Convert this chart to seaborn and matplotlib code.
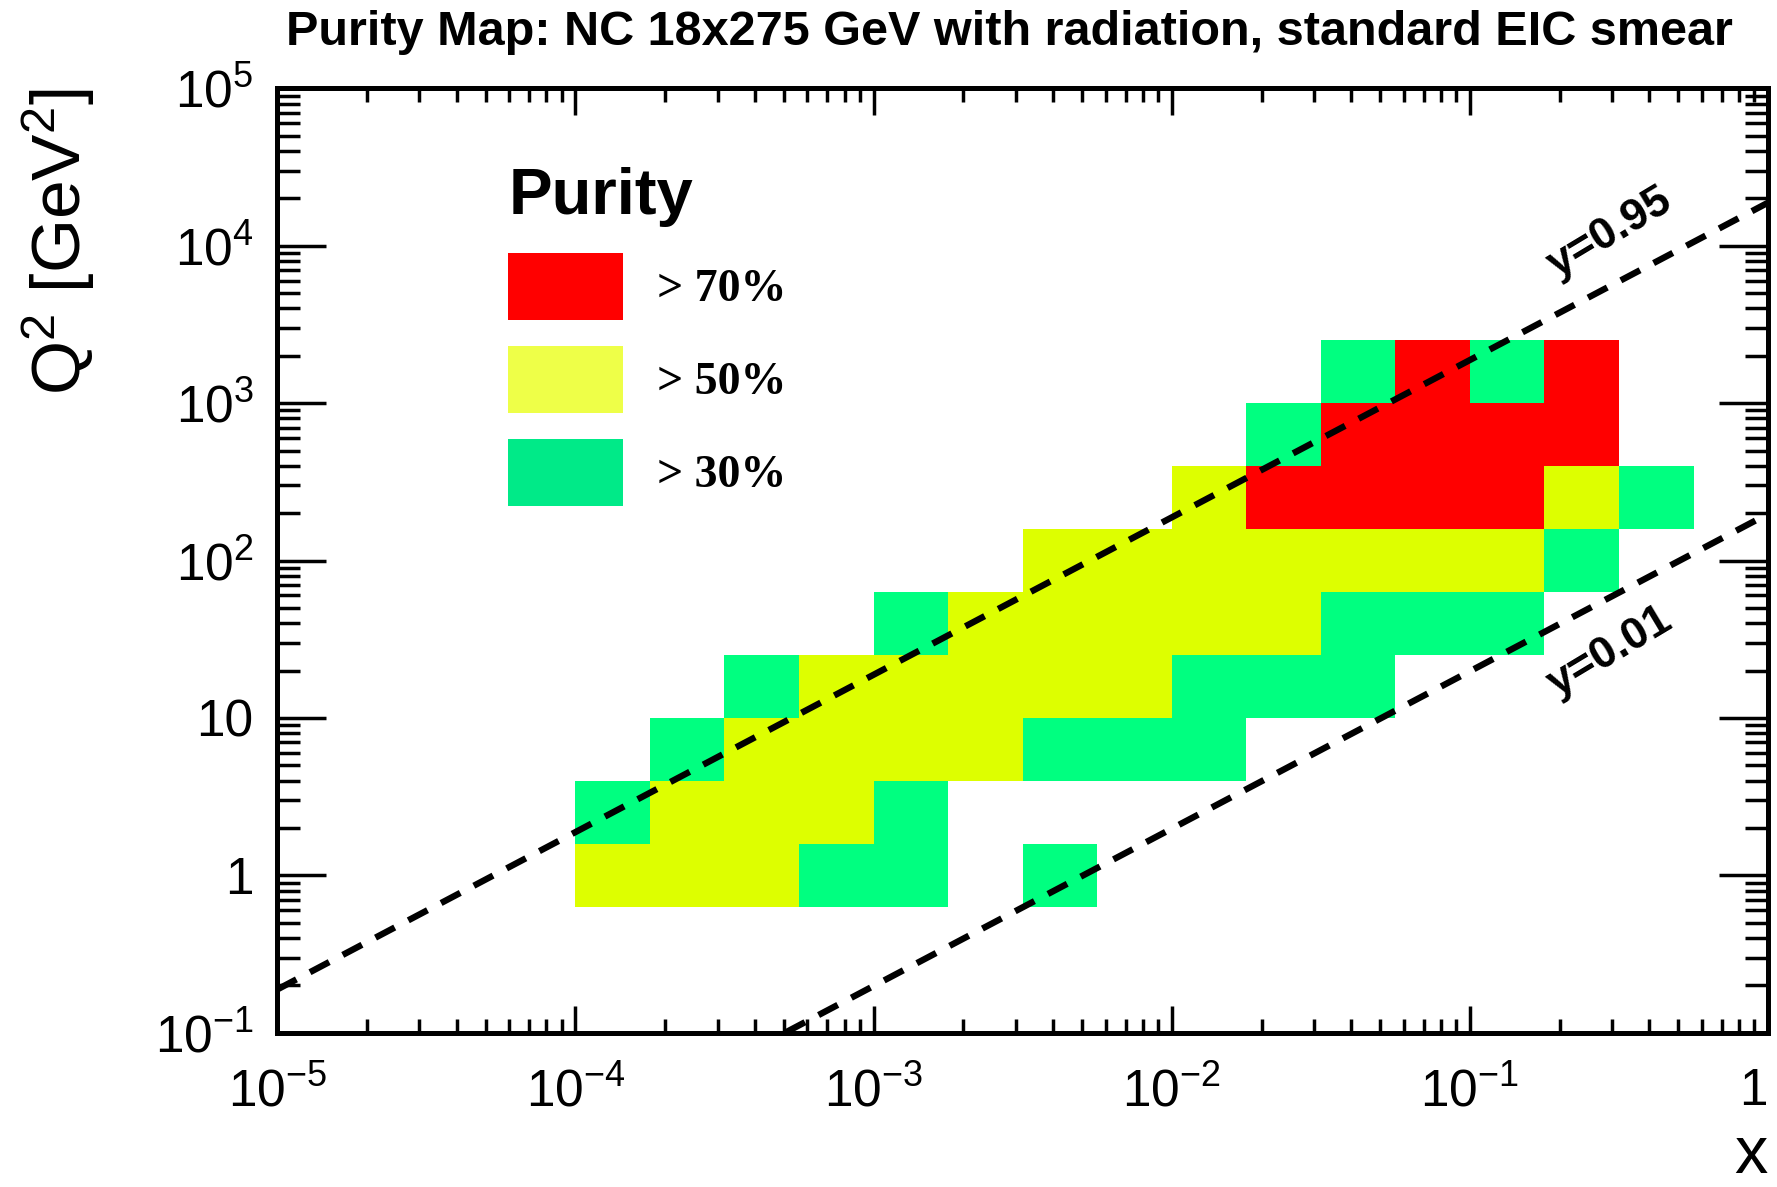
import numpy as np
import pandas as pd
import matplotlib
matplotlib.use('Agg')
import matplotlib.pyplot as plt
import seaborn as sns
from matplotlib.colors import ListedColormap, BoundaryNorm
from matplotlib.patches import Patch
from matplotlib.ticker import LogLocator, FuncFormatter, NullFormatter

# Style
sns.set_theme(style="ticks")
plt.rcParams['font.family'] = ['Liberation Sans', 'DejaVu Sans']
plt.rcParams['mathtext.fontset'] = 'custom'
plt.rcParams['mathtext.rm'] = 'Liberation Sans'
plt.rcParams['mathtext.it'] = 'Liberation Sans:italic'
plt.rcParams['mathtext.bf'] = 'Liberation Sans:bold'
plt.rcParams['text.color'] = 'black'
plt.rcParams['axes.labelcolor'] = 'black'

# Colours
COLOR_HIGH = '#ff0000'
COLOR_MID = '#ddff00'
COLOR_LOW = '#00ff80'
LEGEND_COLORS = ['#ff0000', '#eeff48', '#00ea88']

# Bin edges (log10)
x_edge_exp = [-4.0, -3.75, -3.5, -3.25, -3.0, -2.75, -2.5, -2.25, -2.0,
              -1.75, -1.5, -1.25, -1.0, -0.75, -0.5, -0.25]
q2_edge_exp = [-0.2, 0.2, 0.6, 1.0, 1.4, 1.8, 2.2, 2.6, 3.0, 3.4]

# Purity class per bin: 0 = empty, 1 = >30%, 2 = >50%, 3 = >70%
# rows = Q2 bins (low -> high), columns = x bins (low -> high)
purity_class = [
    [2, 2, 2, 1, 1, 0, 1, 0, 0, 0, 0, 0, 0, 0, 0],
    [1, 2, 2, 2, 1, 0, 0, 0, 0, 0, 0, 0, 0, 0, 0],
    [0, 1, 2, 2, 2, 2, 1, 1, 1, 0, 0, 0, 0, 0, 0],
    [0, 0, 1, 2, 2, 2, 2, 2, 1, 1, 1, 0, 0, 0, 0],
    [0, 0, 0, 0, 1, 2, 2, 2, 2, 2, 1, 1, 1, 0, 0],
    [0, 0, 0, 0, 0, 0, 2, 2, 2, 2, 2, 2, 2, 1, 0],
    [0, 0, 0, 0, 0, 0, 0, 0, 2, 3, 3, 3, 3, 2, 1],
    [0, 0, 0, 0, 0, 0, 0, 0, 0, 1, 3, 3, 3, 3, 0],
    [0, 0, 0, 0, 0, 0, 0, 0, 0, 0, 1, 3, 1, 3, 0],
]
legend_labels = ['> 70%', '> 50%', '> 30%']

# Kinematic lines Q2 = s * x * y, s = 4 * Ee * Ep
E_e, E_p = 18, 275
y_values = [0.95, 0.01]
y_labels = ['y=0.95', 'y=0.01']
x_line = [1e-5, 1.0]

fig = plt.figure(figsize=(17.77, 11.87), dpi=100)
ax = fig.add_axes([0.156, 0.130, 0.839, 0.7955])

x_edges = np.power(10.0, x_edge_exp)
q2_edges = np.power(10.0, q2_edge_exp)
cells = np.ma.masked_equal(np.array(purity_class), 0)
cmap = ListedColormap([COLOR_LOW, COLOR_MID, COLOR_HIGH])
norm = BoundaryNorm([0.5, 1.5, 2.5, 3.5], cmap.N)
ax.pcolormesh(x_edges, q2_edges, cells, cmap=cmap, norm=norm,
              edgecolors='none', antialiased=False, zorder=1)

s = 4 * E_e * E_p
for yv in y_values:
    df = pd.DataFrame({'x': x_line, 'Q2': [s * xv * yv for xv in x_line]})
    sns.lineplot(data=df, x='x', y='Q2', ax=ax, color='black', linewidth=4.6, zorder=3)
    ax.lines[-1].set_dashes((3.4, 2.4))

ax.set_xscale('log')
ax.set_yscale('log')
ax.set_xlim(1e-5, 1)
ax.set_ylim(0.1, 1e5)

ax.text(0.294, 12100, y_labels[0], rotation=31, ha='center', va='center',
        fontsize=32, fontweight='bold', zorder=4)
ax.text(0.294, 26.2, y_labels[1], rotation=31, ha='center', va='center',
        fontsize=32, fontweight='bold', zorder=4)

def log_fmt(v, pos):
    e = int(round(np.log10(v)))
    if e == 0:
        return '1'
    if e == 1:
        return '10'
    return r'$10^{%d}$' % e

for axis in (ax.xaxis, ax.yaxis):
    axis.set_major_locator(LogLocator(base=10, subs=(1.0,), numticks=20))
    axis.set_minor_locator(LogLocator(base=10, subs=np.arange(2, 10), numticks=100))
    axis.set_major_formatter(FuncFormatter(log_fmt))
    axis.set_minor_formatter(NullFormatter())

ax.tick_params(which='both', direction='in', top=True, right=True,
               width=2.5, color='black', labelsize=37, labelcolor='black')
ax.tick_params(axis='x', which='major', length=19.5, pad=25)
ax.tick_params(axis='x', which='minor', length=9.8)
ax.tick_params(axis='y', which='major', length=35, pad=17)
ax.tick_params(axis='y', which='minor', length=16.5)
for sp in ax.spines.values():
    sp.set_linewidth(3.6)
    sp.set_color('black')
ax.grid(False)

ax.set_xlabel('x', fontsize=48, loc='right')
ax.xaxis.set_label_coords(1.0, -0.098)
ax.set_ylabel(r'Q$^{2}$ [GeV$^{2}$]', fontsize=50, loc='top')
ax.yaxis.set_label_coords(-0.121, 1.0)

handles = [Patch(facecolor=c, edgecolor='none') for c in LEGEND_COLORS]
ax.legend(handles, legend_labels, title='Purity', loc='upper left',
          bbox_to_anchor=(0.155, 0.917), frameon=False,
          prop={'family': 'Liberation Serif', 'weight': 'bold', 'size': 33},
          title_fontproperties={'family': 'Liberation Sans', 'weight': 'bold', 'size': 47},
          handlelength=2.5, handleheight=1.85, labelspacing=0.58,
          handletextpad=0.75, borderpad=0, borderaxespad=0, alignment='left')

fig.text(0.568, 0.973, 'Purity Map: NC 18x275 GeV with radiation, standard EIC smear',
         ha='center', va='center', fontsize=35, fontweight='bold')

# keep the "1" label at the right edge inside the figure
fig.canvas.draw()
for t in ax.xaxis.get_major_ticks():
    if np.isclose(t.get_loc(), 1.0):
        t.label1.set_horizontalalignment('right')
        t.label1.set_x(1.0)

fig.savefig('out.png', dpi=100)
